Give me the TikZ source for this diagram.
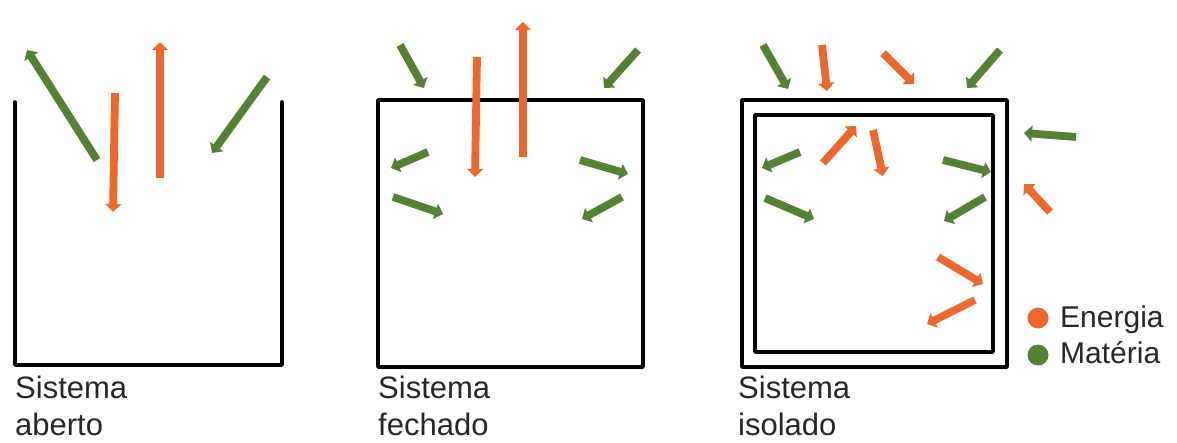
\documentclass[tikz,border=0pt]{standalone}
\usepackage{fontspec}
\setmainfont{Liberation Sans}
\usetikzlibrary{arrows.meta}
\definecolor{energia}{RGB}{236,104,44}
\definecolor{materia}{RGB}{84,130,53}
\tikzset{
  wall/.style={line width=3.6pt, line join=round, line cap=round, black},
  flow/.style={line width=7.8pt, -{Triangle[length=8pt,width=16pt]}},
  en/.style={flow, energia},
  ma/.style={flow, materia},
  caption/.style={anchor=base west, inner sep=0pt, font=\fontsize{31}{37}\selectfont, text=black!85},
  legend/.style={anchor=base west, inner sep=0pt, font=\fontsize{30}{36}\selectfont, text=black!85}
}
\begin{document}
\begin{tikzpicture}[x=1pt,y=-1pt]
\useasboundingbox (0,0) rectangle (1177,442);

% --- open system: container without lid
\draw[wall] (15,102) -- (15,365) -- (282,365) -- (282,102);
\draw[ma] (97,160) -- (27,50);
\draw[en] (115,93) -- (113,212);
\draw[en] (160,178) -- (160,42);
\draw[ma] (267,77) -- (212,153);
\node[caption] (s1a) at (15,398) {Sistema};
\node[caption] (s1b) at (15,435) {aberto};

% --- closed system: single wall
\draw[wall] (378,100) rectangle (643,367);
\draw[ma] (400,45) -- (424,88);
\draw[en] (477,57) -- (475,177);
\draw[en] (523,157) -- (523,22);
\draw[ma] (638,50) -- (604,88);
\draw[ma] (428,152) -- (391,168);
\draw[ma] (393,197) -- (443,214);
\draw[ma] (580,160) -- (628,174);
\draw[ma] (622,197) -- (582,219);
\node[caption] (s2a) at (378,398) {Sistema};
\node[caption] (s2b) at (378,435) {fechado};

% --- isolated system: double wall
\draw[wall] (742,100) rectangle (1007,367);
\draw[wall] (755,115) rectangle (993,352);
% outside
\draw[ma] (763,45) -- (788,89);
\draw[en] (822,45) -- (827,91);
\draw[en] (883,53) -- (914,84);
\draw[ma] (1000,50) -- (967,88);
\draw[ma] (1076,137) -- (1024,133);
\draw[en] (1050,212) -- (1024,184);
% inside
\draw[ma] (800,152) -- (762,168);
\draw[ma] (765,198) -- (814,219);
\draw[en] (823,163) -- (856,126);
\draw[en] (873,130) -- (883,176);
\draw[ma] (943,160) -- (991,172);
\draw[ma] (985,197) -- (944,221);
\draw[en] (938,257) -- (983,284);
\draw[en] (975,300) -- (927,324);
\node[caption] (s3a) at (738,398) {Sistema};
\node[caption] (s3b) at (738,435) {isolado};

% --- legend
\fill[energia] (1038,318) circle (10.5);
\fill[materia] (1038,355) circle (10.5);
\node[legend] (le) at (1060,327) {Energia};
\node[legend] (lm) at (1060,363) {Matéria};
\end{tikzpicture}
\end{document}
